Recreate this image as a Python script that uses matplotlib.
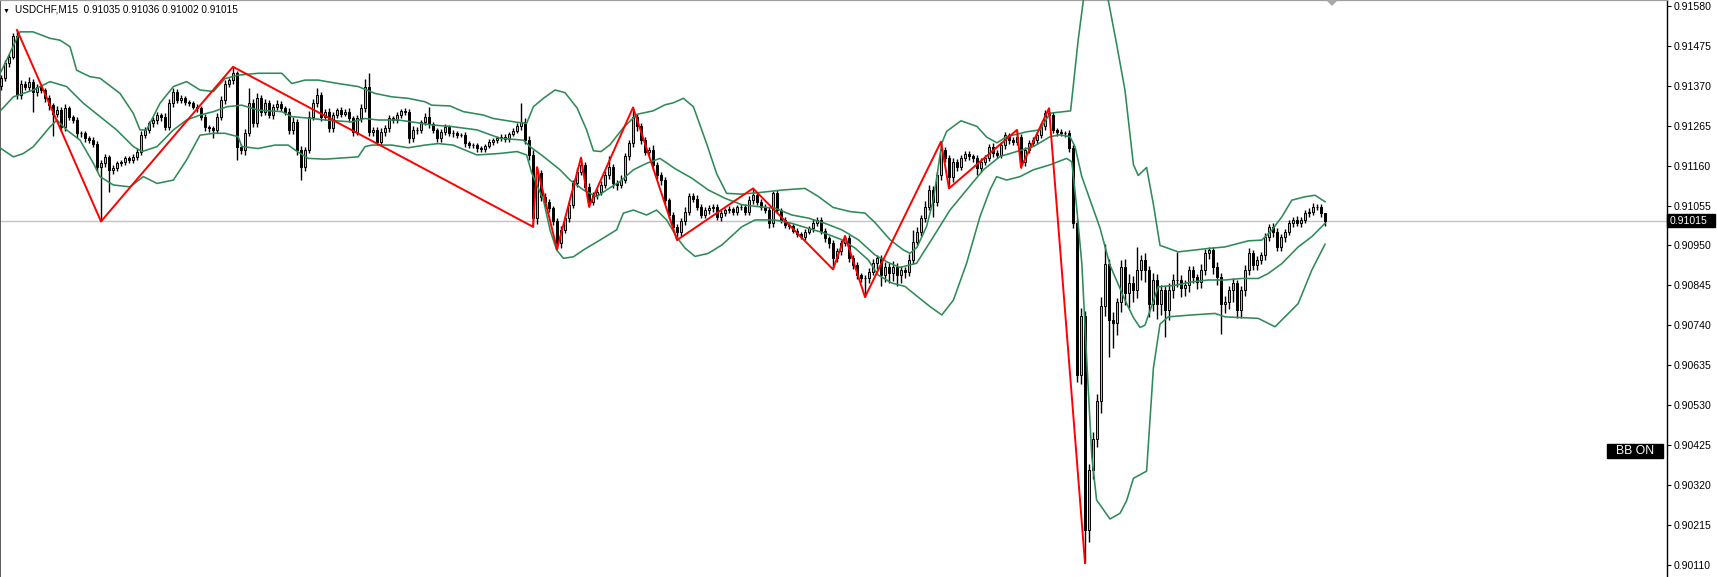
import numpy as np
import matplotlib.pyplot as plt
from matplotlib.patches import Rectangle, Polygon

plt.rcParams['font.family'] = ['Liberation Sans', 'DejaVu Sans']

# USDCHF M15 - prices kept as points above 0.90000 (1 point = 0.00001)
closes = [
    1390, 1429, 1447, 1500, 1346, 1376, 1368, 1381, 1354, 1368,
    1359, 1337, 1319, 1297, 1306, 1262, 1311, 1289, 1280, 1245,
    1245, 1232, 1227, 1218, 1157, 1166, 1183, 1148, 1153, 1166,
    1170, 1179, 1175, 1183, 1197, 1240, 1254, 1271, 1280, 1293,
    1289, 1262, 1324, 1354, 1333, 1337, 1328, 1324, 1315, 1311,
    1289, 1262, 1258, 1254, 1289, 1333, 1376, 1385, 1403, 1210,
    1201, 1245, 1324, 1271, 1337, 1302, 1324, 1293, 1315, 1322,
    1311, 1302, 1254, 1275, 1201, 1157, 1201, 1289, 1324, 1346,
    1289, 1302, 1258, 1293, 1306, 1297, 1302, 1284, 1249, 1284,
    1311, 1368, 1249, 1254, 1223, 1249, 1258, 1284, 1280, 1293,
    1304, 1302, 1232, 1254, 1254, 1275, 1289, 1269, 1254, 1232,
    1249, 1262, 1245, 1245, 1241, 1241, 1219, 1214, 1214, 1206,
    1203, 1212, 1223, 1227, 1232, 1236, 1229, 1243, 1252, 1263,
    1276, 1227, 1188, 1021, 1140, 1078, 1065, 1048, 1013, 956,
    991, 1021, 1056, 1113, 1144, 1162, 1105, 1065, 1083, 1091,
    1109, 1135, 1157, 1113, 1109, 1122, 1184, 1219, 1289, 1263,
    1227, 1197, 1201, 1162, 1135, 1122, 1070, 1030, 999, 986,
    1013, 1039, 1079, 1072, 1052, 1030, 1042, 1048, 1052, 1024,
    1036, 1043, 1045, 1039, 1050, 1052, 1039, 1070, 1083, 1065,
    1052, 1043, 1008, 1087, 1043, 1017, 1004, 1001, 989, 980,
    972, 986, 995, 1010, 1017, 989, 969, 956, 916, 934,
    956, 969, 916, 899, 872, 864, 864, 881, 903, 916,
    872, 894, 877, 894, 872, 885, 881, 912, 960, 986,
    1021, 1052, 1096, 1065, 1135, 1201, 1179, 1129, 1170, 1157,
    1179, 1191, 1185, 1179, 1153, 1170, 1179, 1210, 1192, 1188,
    1214, 1241, 1227, 1223, 1234, 1170, 1201, 1219, 1227, 1241,
    1263, 1298, 1293, 1254, 1249, 1245, 1247, 1206, 1010, 610,
    765, 200, 360, 440, 540, 790, 900, 754, 745, 800,
    894, 824, 850, 832, 885, 911, 885, 797, 859, 797,
    832, 780, 832, 859, 859, 837, 845, 885, 867, 854,
    885, 929, 937, 894, 867, 797, 802, 832, 850, 780,
    832, 885, 929, 898, 911, 924, 972, 999, 986, 946,
    972, 986, 1008, 1017, 1008, 1017, 1034, 1039, 1052, 1052,
    1035, 1015,
]
first_open = 1370

# wick lengths above / below the body, in points
up_wick = [
    8, 10, 6, 10, 17, 9, 7, 12, 6, 8,
    7, 5, 9, 6, 10, 8, 12, 6, 5, 9,
    7, 6, 5, 8, 6, 9, 7, 5, 8, 6,
    5, 7, 6, 8, 9, 10, 7, 6, 8, 9,
    6, 10, 12, 9, 7, 8, 6, 5, 7, 6,
    5, 8, 6, 7, 9, 10, 8, 6, 17, 6,
    8, 12, 39, 10, 14, 8, 11, 9, 7, 10,
    8, 6, 9, 12, 7, 10, 8, 15, 12, 18,
    9, 7, 10, 8, 6, 7, 8, 9, 6, 10,
    12, 20, 35, 8, 7, 10, 9, 8, 6, 7,
    6, 8, 7, 9, 8, 6, 10, 26, 7, 6,
    8, 7, 6, 8, 7, 6, 8, 5, 6, 5,
    6, 5, 7, 6, 5, 6, 8, 6, 7, 9,
    48, 8, 10, 12, 16, 9, 10, 8, 7, 9,
    10, 8, 12, 9, 10, 19, 8, 9, 7, 8,
    10, 12, 27, 8, 9, 12, 10, 9, 24, 8,
    10, 8, 9, 12, 7, 8, 9, 6, 8, 7,
    10, 12, 9, 8, 10, 7, 8, 9, 6, 8,
    7, 6, 8, 7, 6, 8, 7, 10, 17, 8,
    7, 6, 9, 7, 8, 6, 7, 5, 6, 7,
    6, 8, 7, 10, 8, 9, 6, 7, 8, 10,
    8, 6, 9, 8, 7, 6, 8, 10, 12, 9,
    10, 12, 9, 14, 10, 12, 9, 15, 31, 12,
    10, 14, 12, 10, 9, 22, 8, 10, 9, 8,
    9, 7, 8, 6, 10, 9, 8, 7, 9, 8,
    7, 8, 6, 9, 20, 10, 9, 8, 7, 8,
    9, 8, 13, 7, 6, 8, 5, 7, 8, 9,
    20, 12, 15, 18, 20, 25, 55, 15, 20, 12,
    18, 20, 25, 20, 61, 15, 20, 12, 18, 15,
    14, 12, 18, 15, 74, 12, 14, 10, 12, 9,
    15, 12, 9, 10, 12, 10, 15, 12, 14, 10,
    12, 14, 13, 10, 12, 9, 10, 8, 9, 10,
    8, 7, 9, 8, 10, 7, 8, 9, 10, 8,
    7, 1,
]
dn_wick = [
    10, 8, 9, 7, 12, 10, 8, 9, 52, 10,
    8, 9, 12, 60, 9, 12, 10, 8, 9, 12,
    9, 10, 8, 9, 10, 144, 9, 57, 10, 8,
    7, 9, 8, 7, 8, 9, 7, 8, 9, 10,
    12, 9, 8, 10, 8, 7, 9, 8, 7, 10,
    8, 12, 9, 22, 8, 9, 10, 8, 9, 35,
    10, 12, 8, 9, 10, 12, 9, 8, 10, 9,
    8, 9, 10, 12, 14, 35, 10, 9, 8, 9,
    12, 10, 9, 10, 8, 9, 7, 10, 12, 9,
    8, 9, 10, 12, 9, 8, 10, 9, 8, 9,
    7, 8, 12, 9, 10, 8, 9, 10, 8, 10,
    9, 8, 7, 9, 8, 7, 9, 8, 7, 9,
    8, 7, 6, 8, 7, 6, 8, 7, 6, 7,
    8, 10, 12, 22, 14, 10, 12, 9, 10, 16,
    12, 9, 10, 8, 9, 10, 12, 13, 9, 10,
    8, 9, 10, 12, 14, 9, 8, 10, 9, 12,
    10, 9, 12, 10, 9, 12, 10, 9, 12, 22,
    12, 10, 9, 8, 10, 9, 8, 10, 9, 8,
    9, 8, 7, 9, 8, 7, 9, 8, 10, 9,
    8, 9, 12, 10, 9, 8, 9, 8, 7, 8,
    5, 8, 7, 9, 8, 10, 9, 12, 29, 10,
    9, 8, 10, 12, 10, 9, 50, 12, 10, 14,
    30, 18, 25, 20, 28, 22, 18, 12, 10, 9,
    12, 10, 9, 39, 10, 12, 10, 29, 12, 10,
    9, 8, 10, 9, 18, 10, 9, 8, 10, 9,
    8, 9, 10, 8, 9, 15, 10, 9, 8, 10,
    9, 10, 8, 9, 10, 8, 9, 10, 15, 20,
    25, 86, 30, 25, 20, 30, 25, 97, 65, 30,
    25, 30, 40, 30, 20, 25, 30, 35, 20, 40,
    30, 70, 25, 20, 18, 22, 20, 18, 15, 20,
    15, 12, 14, 18, 20, 79, 25, 20, 30, 22,
    20, 15, 12, 14, 12, 10, 12, 10, 15, 12,
    10, 12, 9, 10, 8, 10, 9, 8, 10, 9,
    10, 13,
]

# zigzag swing points (bar index, points)
zz_k = [4, 25, 58, 133, 134, 139, 145, 147, 158, 169,
        188, 208, 211, 216, 235, 237, 254, 255, 262, 271]
zz_v = [1517, 1013, 1420, 999, 1156, 940, 1181, 1052, 1313, 964,
        1100, 887, 975, 814, 1223, 1100, 1254, 1155, 1311, 114]

# bollinger bands (bar index, points)
upper_k = [0, 4.75, 8, 12.25, 14.75, 17.25, 18.9, 22.25, 24.75, 29.75,
           33.1, 34.75, 36.4, 39.75, 43.1, 46.4, 49.75, 53.1, 56, 59.3,
           64.3, 70.2, 72.7, 76, 79.3, 84.3, 89.3, 93.5, 97.7, 101.8,
           106, 107.7, 112.25, 115.6, 120.6, 123.1, 129, 131.4, 133.1, 135.6,
           138.5, 141, 144, 146.4, 148.1, 150, 152.25, 155.6, 159, 163,
           166, 168, 170.6, 173.1, 176.4, 178.9, 181.4, 185.2, 189.5, 195.6,
           201, 204.3, 208, 212.25, 216, 218.5, 222.25, 225.6, 227.25, 229,
           231.4, 233.1, 235.2, 236.4, 240, 244, 246.4, 249, 251.4, 256.4,
           259.75, 262.25, 267.4, 269.3, 270.6, 272, 274, 275.5, 276.8, 278.9,
           281, 283.1, 284.3, 286.4, 288.1, 289.75, 294.3, 297.7, 301.8, 306,
           311.8, 315.2, 317.7, 320.2, 322.7, 326, 328.5, 331]
upper_v = [1407, 1512, 1512, 1495, 1490, 1473, 1411, 1394, 1390, 1350,
           1297, 1254, 1254, 1324, 1368, 1381, 1359, 1355, 1389, 1398,
           1403, 1403, 1376, 1385, 1385, 1376, 1368, 1350, 1341, 1337,
           1328, 1319, 1317, 1302, 1293, 1284, 1274, 1271, 1315, 1337,
           1359, 1352, 1312, 1254, 1199, 1197, 1215, 1260, 1295, 1304,
           1320, 1325, 1337, 1315, 1218, 1139, 1087, 1085, 1089, 1096,
           1100, 1079, 1050, 1039, 1035, 1010, 965, 938, 929, 945,
           1000, 1070, 1219, 1250, 1278, 1263, 1235, 1220, 1236, 1249,
           1254, 1298, 1304, 1491, 1596, 1700, 1760, 1700, 1596, 1480,
           1358, 1163, 1134, 1155, 1058, 950, 933, 937, 942, 946,
           962, 964, 990, 1025, 1069, 1078, 1082, 1065]
middle_k = [0, 3.1, 8.1, 12.25, 16.4, 20.6, 24.75, 28.9, 33.1, 35.25,
            39, 43.1, 46.4, 49.75, 53.1, 56.5, 60.2, 64.3, 70.2, 72.7,
            77.7, 81, 87.7, 91, 94.3, 99.3, 102.7, 107.7, 112.5, 119,
            124.75, 130.6, 132.25, 135.6, 139.75, 142.25, 145.6, 148.9, 151.4, 154.75,
            158.1, 161.4, 164.75, 168.5, 172.7, 176.8, 181, 185.2, 189.3, 193.5,
            197.7, 201.8, 206, 210.2, 214.3, 218.5, 221.8, 224.75, 228.9, 233.1,
            237.25, 241.4, 245.6, 249.75, 253.9, 258.1, 262.25, 264.75, 267.25, 268.5,
            270.2, 272.25, 274.75, 277.25, 281, 283.1, 284.75, 286, 289.3, 293.5,
            297.7, 301.8, 306, 310.2, 314.3, 316.8, 320.2, 324.3, 327.7, 331]
middle_v = [1306, 1341, 1359, 1381, 1368, 1324, 1289, 1254, 1210, 1197,
            1210, 1254, 1280, 1293, 1302, 1315, 1319, 1306, 1302, 1289,
            1284, 1280, 1275, 1284, 1280, 1280, 1275, 1267, 1263, 1254,
            1232, 1227, 1210, 1184, 1149, 1122, 1096, 1078, 1096, 1118,
            1149, 1166, 1179, 1152, 1127, 1096, 1074, 1057, 1052, 1048,
            1030, 1022, 1008, 991, 965, 925, 905, 892, 903, 973,
            1043, 1096, 1149, 1184, 1197, 1210, 1236, 1241, 1236, 1210,
            1131, 1070, 996, 898, 806, 760, 734, 740, 841, 845,
            854, 859, 859, 863, 863, 876, 902, 946, 973, 1008]
lower_k = [0, 3.1, 5.6, 8.1, 12.25, 14, 16.4, 19.75, 23.1, 24.75,
           28.1, 32.25, 35.6, 39, 43.1, 46.4, 49.75, 53.1, 56, 59.3,
           60.2, 64.3, 68.5, 71.8, 73.5, 76.8, 81, 89.3, 91, 92.7,
           97.7, 101.8, 106, 109.3, 113, 119, 124.75, 129, 131.4, 132.7,
           135.6, 137.25, 138.9, 140.6, 143.1, 145.6, 149.75, 153.9, 155.6, 158.1,
           161.4, 163.9, 166.4, 169, 171, 173.5, 176.8, 180.2, 185.2, 188.5,
           193.5, 197.7, 201.8, 206, 210.2, 213.5, 216.8, 219.3, 222.7, 226,
           228.1, 232.25, 235.2, 238.1, 241.4, 244.75, 247.25, 248.9, 251.4, 254.75,
           258.1, 262.25, 266.4, 267.7, 268.9, 270.2, 271.4, 272.7, 273.9, 277.25,
           279.75, 281.4, 283.1, 286.4, 288.1, 289.75, 291.8, 297.7, 303.5, 306,
           314.3, 318.5, 321, 324.3, 327.7, 331]
lower_v = [1205, 1183, 1192, 1210, 1262, 1280, 1254, 1227, 1166, 1131,
           1109, 1104, 1131, 1113, 1122, 1175, 1240, 1245, 1245, 1236,
           1210, 1205, 1214, 1214, 1201, 1179, 1177, 1183, 1210, 1214,
           1214, 1207, 1214, 1218, 1214, 1188, 1192, 1197, 1188, 1140,
           1070, 991, 938, 916, 920, 938, 964, 991, 1035, 1043,
           1030, 1043, 1017, 971, 943, 921, 929, 951, 999, 1017,
           1017, 1008, 995, 982, 965, 943, 912, 872, 851, 842,
           824, 789, 767, 806, 903, 1026, 1096, 1131, 1122, 1131,
           1149, 1162, 1179, 1170, 1052, 903, 657, 394, 280, 230,
           245, 278, 337, 356, 627, 743, 762, 767, 771, 762,
           758, 736, 762, 797, 885, 953]

price_ticks = [0.91580, 0.91475, 0.91370, 0.91265, 0.91160, 0.91055, 0.90950,
               0.90845, 0.90740, 0.90635, 0.90530, 0.90425, 0.90320, 0.90215, 0.90110]
last_price = 0.91015
header = "USDCHF,M15  0.91035 0.91036 0.91002 0.91015"


def px(v):
    return 0.9 + np.asarray(v, dtype=float) / 1e5


c = np.array(closes, dtype=float)
o = np.r_[first_open, c[:-1]]
hi = np.maximum(o, c) + np.array(up_wick)
lo = np.minimum(o, c) - np.array(dn_wick)
idx = np.arange(len(c))
bull = c >= o

W, H = 1717, 577
fig = plt.figure(figsize=(W / 100, H / 100), dpi=100)
ax = fig.add_axes([0, 0, 1667 / W, 1])

ax.axhline(last_price, color="#c4c4c4", lw=1, zorder=1)

ax.vlines(idx, px(lo), px(hi), color="black", lw=1.0, zorder=2)
ax.bar(idx[bull], px(c[bull]) - px(o[bull]), bottom=px(o[bull]), width=0.72,
       color="#b8b8b8", edgecolor="black", lw=0.7, zorder=3)
ax.bar(idx[~bull], px(c[~bull]) - px(o[~bull]), bottom=px(o[~bull]), width=0.72,
       color="black", edgecolor="black", lw=0.7, zorder=3)

green = "#2e8b57"
ax.plot(upper_k, px(upper_v), color=green, lw=1.15, zorder=4)
ax.plot(middle_k, px(middle_v), color=green, lw=1.15, zorder=4)
ax.plot(lower_k, px(lower_v), color=green, lw=1.15, zorder=4)

ax.plot(zz_k, px(zz_v), color="#ff0000", lw=1.4, zorder=5)

ax.set_xlim(-0.25, 416.5)
ax.set_ylim(px(77.4), px(1595.8))
ax.set_xticks([])
ax.yaxis.tick_right()
ax.set_yticks(price_ticks)
ax.set_yticklabels([f"{t:.5f}" for t in price_ticks])
ax.tick_params(axis="y", direction="out", length=3, width=0.8, pad=2,
               labelsize=7.6, colors="black")

ax.spines["bottom"].set_visible(False)
ax.spines["top"].set_color("#a0a0a0")
ax.spines["top"].set_linewidth(1.6)
ax.spines["left"].set_color("#404040")
ax.spines["left"].set_linewidth(1.2)
ax.spines["right"].set_color("black")
ax.spines["right"].set_linewidth(1.0)


def fx(x):
    return x / W


def fy(y):
    return 1 - y / H


# header
fig.text(fx(3), fy(12.5), "\u25bc", fontsize=5, color="black")
fig.text(fx(15), fy(12.5), header, fontsize=7.2, color="black")

# current price tag
fig.patches.append(Rectangle((fx(1667), fy(226.5)), 48 / W, 12 / H,
                             transform=fig.transFigure, color="black"))
fig.text(fx(1670), fy(220.7), f"{last_price:.5f}", fontsize=7.6,
         color="white", va="center", ha="left")

# BB ON label
fig.patches.append(Rectangle((fx(1607), fy(458)), 56 / W, 14 / H,
                             transform=fig.transFigure, color="black"))
fig.text(fx(1635), fy(451), "BB ON", fontsize=8.8, color="white",
         va="center", ha="center")

# chart shift marker
fig.patches.append(Polygon([(fx(1327), fy(0)), (fx(1337), fy(0)), (fx(1332), fy(5))],
                           closed=True, transform=fig.transFigure, color="#a8a8a8"))

fig.savefig("out.png", dpi=100)
